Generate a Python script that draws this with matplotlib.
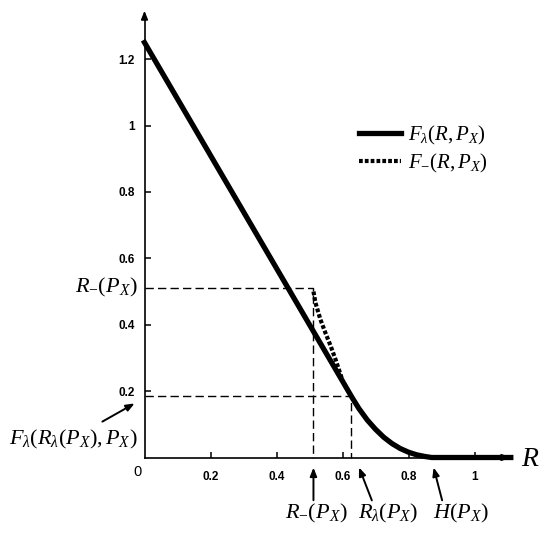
import matplotlib
matplotlib.use('Agg')
import matplotlib.pyplot as plt
from matplotlib.lines import Line2D

plt.rcParams['mathtext.fontset'] = 'custom'
plt.rcParams['mathtext.it'] = 'Liberation Serif:italic'
plt.rcParams['mathtext.rm'] = 'Liberation Serif'
plt.rcParams['mathtext.bf'] = 'Liberation Serif:bold'

# ---- data ----
R_lambda_curve = [0.0, 0.60, 0.63, 0.65, 0.675, 0.70, 0.725, 0.75, 0.775, 0.80, 0.825, 0.85, 0.87, 1.11]
F_lambda_curve = [1.25, 0.23, 0.179, 0.147, 0.113, 0.085, 0.061, 0.042, 0.027, 0.016, 0.008, 0.003, 0.0, 0.0]

R_minus_curve = [0.512, 0.518, 0.533, 0.548, 0.564, 0.579, 0.60]
F_minus_curve = [0.500, 0.466, 0.416, 0.376, 0.336, 0.295, 0.232]

R_minus = 0.512        # R_-(P_X)
R_lam = 0.627          # R_lambda(P_X)
F_at_R_lam = 0.184     # F_lambda(R_lambda(P_X), P_X)
H_PX = 0.868           # H(P_X)

x_ticks = [0.2, 0.4, 0.6, 0.8, 1.0]
x_tick_labels = ['0.2', '0.4', '0.6', '0.8', '1']
y_ticks = [0.2, 0.4, 0.6, 0.8, 1.0, 1.2]
y_tick_labels = ['0.2', '0.4', '0.6', '0.8', '1', '1.2']

# ---- figure ----
fig = plt.figure(figsize=(5.46, 5.34), dpi=100)
ax = fig.add_axes([0, 0, 1, 1])
x0px, y0px, sx, sy = 144.5, 457.5, 330.0, 332.0
ax.set_xlim(-x0px / sx, (546 - x0px) / sx)
ax.set_ylim((y0px - 534) / sy, y0px / sy)

x_end = 1.117
y_end = 1.354

for s in ['top', 'right']:
    ax.spines[s].set_visible(False)
ax.spines['left'].set_position(('data', 0))
ax.spines['bottom'].set_position(('data', 0))
ax.spines['left'].set_bounds(0, y_end - 0.02)
ax.spines['bottom'].set_bounds(0, x_end - 0.02)
ax.spines['left'].set_linewidth(1.2)
ax.spines['bottom'].set_linewidth(1.2)

ax.set_xticks(x_ticks)
ax.set_xticklabels(x_tick_labels)
ax.set_yticks(y_ticks)
ax.set_yticklabels(y_tick_labels)
ax.tick_params(axis='both', direction='in', length=4, width=1.1)
ax.tick_params(axis='x', pad=10)
ax.tick_params(axis='y', pad=7)
for lab in ax.get_xticklabels() + ax.get_yticklabels():
    lab.set_fontfamily('Liberation Sans')
    lab.set_fontweight('bold')
    lab.set_fontsize(8.5)

# axis arrow heads
ax.annotate('', xy=(x_end, 0), xytext=(x_end - 0.04, 0),
            arrowprops=dict(arrowstyle='-|>,head_length=0.5,head_width=0.2', color='k', lw=1.2))
ax.annotate('', xy=(0, y_end), xytext=(0, y_end - 0.04),
            arrowprops=dict(arrowstyle='-|>,head_length=0.5,head_width=0.2', color='k', lw=1.2))

# dashed guide lines
dash = (0, (6, 3))
ax.plot([0, R_minus, R_minus], [R_minus, R_minus, 0], color='k', lw=1.0, ls=dash, zorder=2)
ax.plot([0, R_lam, R_lam], [F_at_R_lam, F_at_R_lam, 0], color='k', lw=1.0, ls=dash, zorder=2)

# curves
dot = (0, (0.9, 0.5))
ax.plot(R_minus_curve, F_minus_curve, color='k', lw=3.0, ls=dot, zorder=3,
        solid_capstyle='butt', label=r'$F_{-}(R,P_X)$')
ax.plot(R_lambda_curve, F_lambda_curve, color='k', lw=3.8, zorder=4,
        solid_joinstyle='round', label=r'$F_{\lambda}(R,P_X)$')

# legend
h_solid = Line2D([], [], color='k', lw=3.8)
h_dot = Line2D([], [], color='k', lw=3.0, ls=dot)
ax.legend([h_solid, h_dot], [r'$F_{\lambda}(R,P_X)$', r'$F_{-}(R,P_X)$'],
          loc='upper left', bbox_to_anchor=(359 / 546, 1 - 124 / 534),
          bbox_transform=fig.transFigure, frameon=False, fontsize=15,
          handlelength=2.0, handletextpad=0.35, labelspacing=0.25,
          borderpad=0, borderaxespad=0)

# text labels
tfs = 16
ax.text(-0.0197, -0.0437, '0', fontfamily='Liberation Sans', fontsize=10.5,
        ha='center', va='center')
ax.text(1.168, 0.0, r'$R$', fontsize=20, ha='center', va='center')

ax.text(-0.02, R_minus, r'$R_{-}(P_X)$', fontsize=tfs, ha='right', va='center')
ax.text(-0.02, 0.055, r'$F_{\lambda}(R_{\lambda}(P_X),P_X)$', fontsize=tfs, ha='right', va='center')
ax.annotate('', xy=(-0.0227, 0.167), xytext=(-0.135, 0.104),
            arrowprops=dict(arrowstyle='-|>,head_length=0.5,head_width=0.2', color='k', lw=1.4))

yb = -0.169
ax.text(0.52, yb, r'$R_{-}(P_X)$', fontsize=tfs, ha='center', va='center')
ax.text(0.738, yb, r'$R_{\lambda}(P_X)$', fontsize=tfs, ha='center', va='center')
ax.text(0.959, yb, r'$H(P_X)$', fontsize=tfs, ha='center', va='center')

ap = dict(arrowstyle='-|>,head_length=0.5,head_width=0.2', color='k', lw=1.4)
ax.annotate('', xy=(R_minus, -0.022), xytext=(R_minus, -0.137), arrowprops=ap)
ax.annotate('', xy=(R_lam + 0.02, -0.022), xytext=(R_lam + 0.065, -0.137), arrowprops=ap)
ax.annotate('', xy=(H_PX + 0.006, -0.022), xytext=(H_PX + 0.036, -0.137), arrowprops=ap)

fig.savefig('out.png', dpi=100)
